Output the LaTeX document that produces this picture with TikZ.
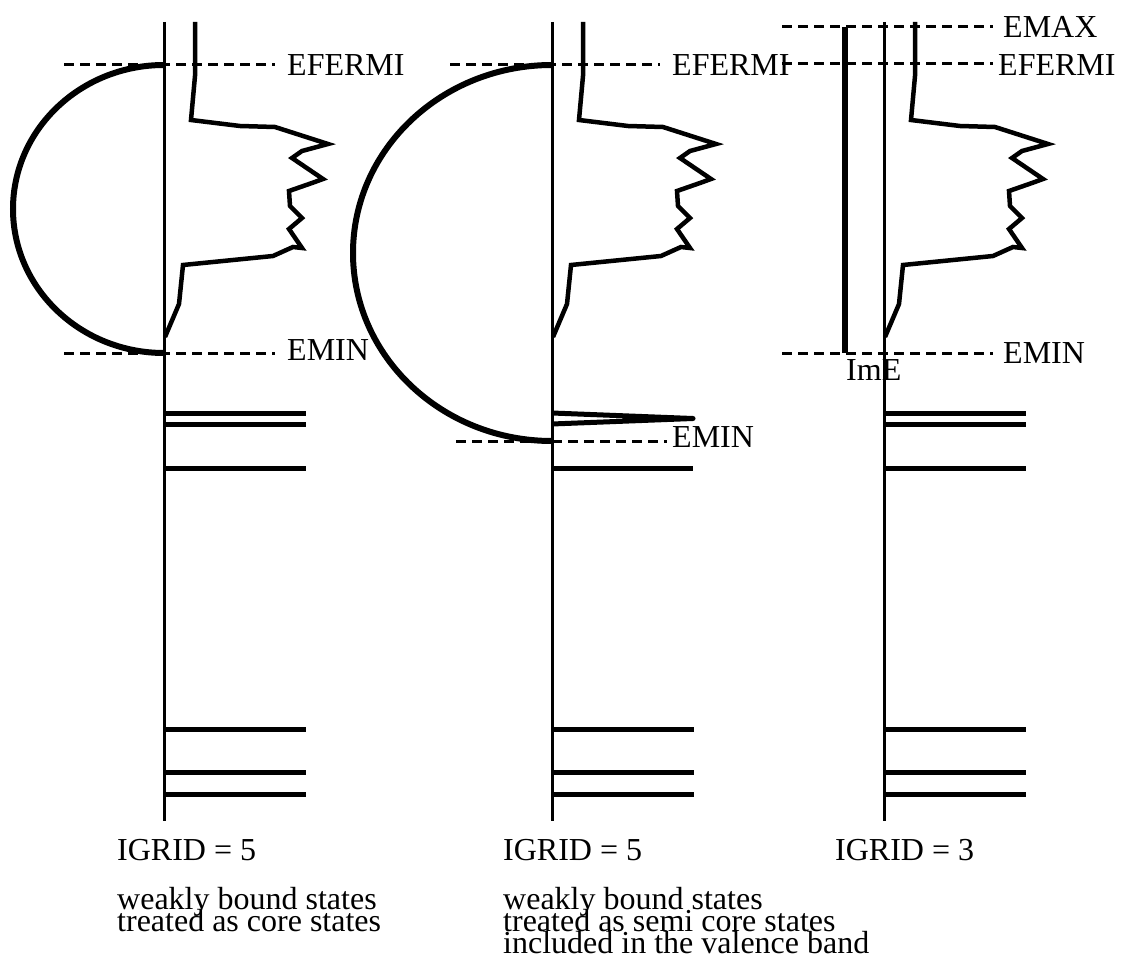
\documentclass[tikz,border=0pt]{standalone}
\usepackage{fontspec}
\setmainfont{Liberation Serif}
\usetikzlibrary{positioning}

\begin{document}
\begin{tikzpicture}[x=1pt, y=-1pt,
  axis/.style={line width=3pt},
  dos/.style={line width=4.5pt, line join=miter, miter limit=4},
  band/.style={line width=6pt},
  level/.style={line width=5pt},
  ebound/.style={line width=3pt, dash pattern=on 10pt off 6pt},
  lbl/.style={anchor=base west, inner sep=0pt, font=\fontsize{32}{22}\selectfont},
  note/.style={anchor=north west, inner sep=0pt, align=left,
    font={\fontsize{32}{22}\selectfont\lineskiplimit -100pt}}]
  \useasboundingbox (0,0) rectangle (1121,965);

  % Energy bounds
  \draw[ebound] (64,65) -- (275,65);
  \draw[ebound] (64,353) -- (275,353);
  \draw[ebound] (450,65) -- (660,65);
  \draw[ebound] (456,441) -- (667,441);
  \draw[ebound] (782,27) -- (993,27);
  \draw[ebound] (782,64) -- (993,64);
  \draw[ebound] (782,353) -- (993,353);

  % Axes, density of states and deep core levels
  \foreach \ax in {164,552,884} {
    \begin{scope}[shift={(\ax,0)}]
      \draw[axis] (0,22) -- (0,821);
      \draw[dos] (31,22) -- (31,76) -- (27,120) -- (76,126) -- (111,127)
        -- (164,144) -- (138,151) -- (128,158) -- (159,179) -- (148,183)
        -- (125,191) -- (126,206) -- (138,218) -- (125,229) -- (138,248)
        -- (129,247) -- (109,256) -- (19,265) -- (15,304) -- (1,337);
      \foreach \lev in {729,772,794}
        \draw[level] (0,\lev) -- (142,\lev);
    \end{scope}
  }

  % Weakly bound states
  \foreach \ax in {164,884}
    \foreach \lev in {413,424,468}
      \draw[level] (\ax,\lev) -- ++(142,0);
  \draw[level, line join=round] (552,413) -- (693,418.5) -- (552,424);
  \draw[level] (552,468) -- (693,468);

  % Contours
  \draw[band] (164,65) arc[start angle=90, end angle=270, x radius=151pt, y radius=144pt];
  \draw[band] (552,65) arc[start angle=90, end angle=270, x radius=199pt, y radius=188pt];
  \draw[band] (845,27) -- (845,353);

  % Labels
  \node[lbl] (ef1) at (287,76) {EFERMI};
  \node[lbl] (em1) at (287,360) {EMIN};
  \node[lbl] (ef2) at (672,76) {EFERMI};
  \node[lbl] (em2) at (672,447) {EMIN};
  \node[lbl] (emax) at (1003,38) {EMAX};
  \node[lbl] (ef3) at (998,76) {EFERMI};
  \node[lbl] (em3) at (1003,363) {EMIN};
  \node[lbl] (ime) at (846,380) {ImE};

  \node[lbl] (ig1) at (117,860) {IGRID = 5};
  \node[lbl] (ig2) at (503,860) {IGRID = 5};
  \node[lbl] (ig3) at (835,860) {IGRID = 3};
  \node[note] (txt1) at (117,887) {weakly bound states\\treated as core states};
  \node[note] (txt2) at (503,887) {weakly bound states\\treated as semi core states\\included in the valence band};
\end{tikzpicture}
\end{document}
